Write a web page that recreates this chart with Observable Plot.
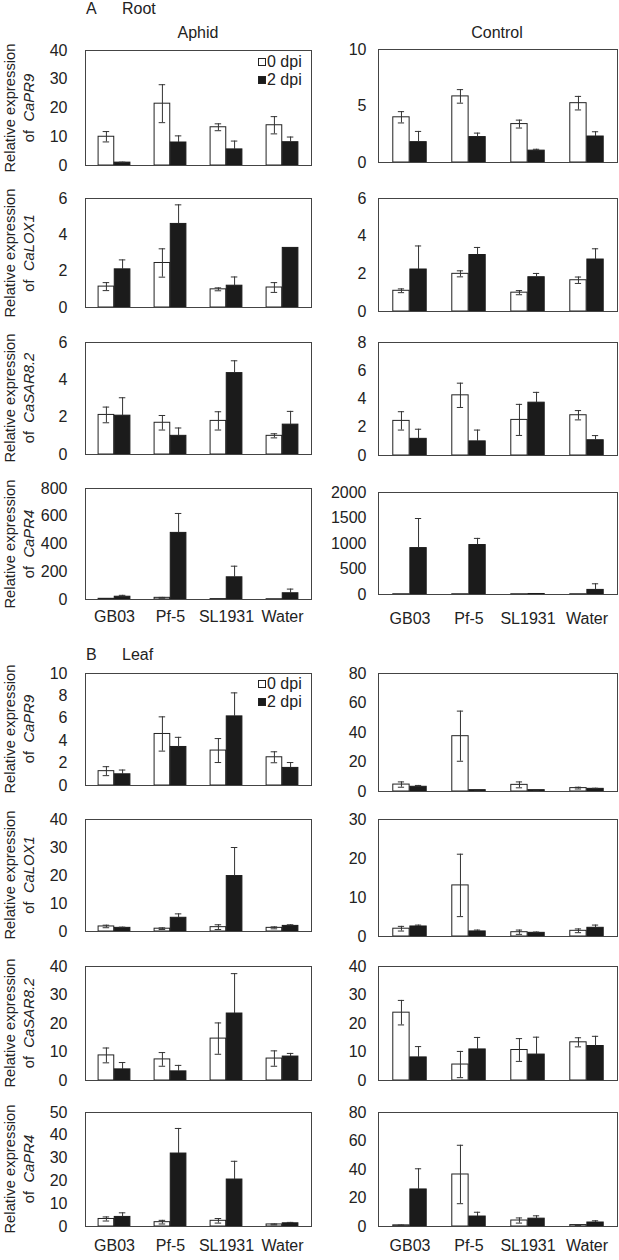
<!DOCTYPE html>
<html>
<head>
<meta charset="utf-8">
<script src="https://cdn.jsdelivr.net/npm/d3@7"></script>
<script src="https://cdn.jsdelivr.net/npm/@observablehq/plot@0.6"></script>
<style>
  html, body { margin: 0; padding: 0; background: #fff; }
  #fig { position: relative; width: 619px; height: 1260px; font-family: "Liberation Sans", Arial, Helvetica, sans-serif; color: #222; overflow: hidden; }
  .t { position: absolute; white-space: nowrap; font-size: 16px; line-height: 18px; }
  .yl { position: absolute; white-space: nowrap; font-size: 14.8px; line-height: 19px; text-align: center; transform: translate(-50%, -50%) rotate(-90deg); }
  .sq { position: absolute; width: 6px; height: 6px; border: 1px solid #222; }
</style>
</head>
<body>
<div id="fig"></div>
<script>
// ---------- data ----------
const cats = ["GB03", "Pf-5", "SL1931", "Water"];
const series = ["0 dpi", "2 dpi"];
const genes = ["CaPR9", "CaLOX1", "CaSAR8.2", "CaPR4"];

// Root, Aphid (means and SE for 0 dpi and 2 dpi)
const rootAphidPR9  = {m0: [10, 21.5, 13.3, 14],     e0: [1.8, 6.6, 1.2, 3],       m2: [1, 8, 5.6, 8.1],        e2: [0.15, 2.3, 2.9, 1.8]};
const rootAphidLOX1 = {m0: [1.15, 2.45, 1, 1.1],     e0: [0.22, 0.78, 0.08, 0.27], m2: [2.1, 4.6, 1.2, 3.28],   e2: [0.52, 1.05, 0.48, 0]};
const rootAphidSAR  = {m0: [2.12, 1.7, 1.8, 1.0],    e0: [0.42, 0.39, 0.49, 0.11], m2: [2.08, 1, 4.36, 1.6],    e2: [0.96, 0.42, 0.66, 0.71]};
const rootAphidPR4  = {m0: [5, 12, 3, 2],            e0: [0, 3, 0, 0],             m2: [20, 480, 160, 45],      e2: [10, 140, 80, 30]};
// Root, Control
const rootCtrlPR9   = {m0: [4, 5.85, 3.4, 5.25],     e0: [0.5, 0.6, 0.35, 0.6],    m2: [1.8, 2.25, 1.05, 2.3],  e2: [0.95, 0.35, 0.12, 0.42]};
const rootCtrlLOX1  = {m0: [1.1, 2, 1, 1.66],        e0: [0.1, 0.16, 0.11, 0.17],  m2: [2.23, 3, 1.82, 2.76],   e2: [1.25, 0.4, 0.2, 0.57]};
const rootCtrlSAR   = {m0: [2.45, 4.26, 2.52, 2.85], e0: [0.65, 0.86, 1.1, 0.33],  m2: [1.18, 1, 3.74, 1.08],   e2: [0.68, 0.8, 0.73, 0.33]};
const rootCtrlPR4   = {m0: [5, 5, 5, 5],             e0: [0, 0, 0, 0],             m2: [910, 970, 10, 90],      e2: [580, 130, 0, 120]};
// Leaf, Aphid
const leafAphidPR9  = {m0: [1.28, 4.6, 3.12, 2.52],  e0: [0.4, 1.53, 1.07, 0.49],  m2: [1, 3.44, 6.17, 1.57],   e2: [0.38, 0.86, 2.1, 0.48]};
const leafAphidLOX1 = {m0: [1.8, 1.0, 1.55, 1.3],    e0: [0.45, 0.3, 0.85, 0.35],  m2: [1.3, 4.9, 19.8, 2.0],   e2: [0.25, 1.4, 10.2, 0.4]};
const leafAphidSAR  = {m0: [8.8, 7.4, 14.7, 7.7],    e0: [2.6, 2.4, 5.5, 2.7],     m2: [3.9, 3.2, 23.5, 8.4],   e2: [2.4, 2.1, 14, 1.1]};
const leafAphidPR4  = {m0: [3.3, 1.9, 2.5, 0.9],     e0: [0.9, 0.8, 1, 0.2],       m2: [4.2, 32, 20.6, 1.4],    e2: [1.8, 11, 8, 0.4]};
// Leaf, Control
const leafCtrlPR9   = {m0: [4.7, 37.5, 4.5, 2.3],    e0: [1.8, 17, 2, 0.6],        m2: [3.2, 0.9, 0.9, 1.8],    e2: [0.9, 0.2, 0.2, 0.4]};
const leafCtrlLOX1  = {m0: [2, 13.1, 1.1, 1.46],     e0: [0.6, 8, 0.55, 0.48],     m2: [2.57, 1.3, 0.94, 2.23], e2: [0.35, 0.35, 0.2, 0.7]};
const leafCtrlSAR   = {m0: [23.8, 5.6, 10.7, 13.4],  e0: [4.3, 4.6, 4, 1.6],       m2: [8.1, 10.9, 9.1, 12.1],  e2: [3.8, 4.2, 6.1, 3.4]};
const leafCtrlPR4   = {m0: [0.8, 36.5, 4.2, 1],      e0: [0.2, 20.5, 1.8, 0.3],    m2: [26, 7, 5.5, 2.8],       e2: [14.5, 3, 2, 1.2]};

// y tick labels
const ticksRootAphid = [[0, 10, 20, 30, 40], [0, 2, 4, 6], [0, 2, 4, 6], [0, 200, 400, 600, 800]];
const ticksRootCtrl  = [[0, 5, 10], [0, 2, 4, 6], [0, 2, 4, 6, 8], [0, 500, 1000, 1500, 2000]];
const ticksLeafAphid = [[0, 2, 4, 6, 8, 10], [0, 10, 20, 30, 40], [0, 10, 20, 30, 40], [0, 10, 20, 30, 40, 50]];
const ticksLeafCtrl  = [[0, 20, 40, 60, 80], [0, 10, 20, 30], [0, 10, 20, 30, 40], [0, 20, 40, 60, 80]];

// ---------- layout ----------
const fig = document.getElementById("fig");
const FONT = '"Liberation Sans", Arial, Helvetica, sans-serif';

function panel({L, R, T, B, data, ticks, xlabels, yPad, xPad}) {
  const mL = 60, mR = 2, mT = 2, mB = xlabels ? 40 : 2;
  const fw = R - L, bw = fw / 4, w = 0.286 * bw, cap = 7;
  const rows = cats.map((c, i) => ({cat: c, m0: data.m0[i], e0: data.e0[i], m2: data.m2[i], e2: data.e2[i]}));
  const domain = [ticks[0], ticks[ticks.length - 1]];
  const svg = Plot.plot({
    width: fw + mL + mR,
    height: (B - T) + mT + mB,
    marginLeft: mL, marginRight: mR, marginTop: mT, marginBottom: mB,
    style: {fontFamily: FONT, fontSize: "16px", color: "#222", background: "transparent", overflow: "visible"},
    x: {domain: cats, padding: 0, axis: xlabels ? "bottom" : null, tickSize: 0, tickPadding: xPad, label: null},
    y: {domain, ticks, tickSize: 0, tickPadding: yPad, label: null, tickFormat: d => String(d)},
    marks: [
      Plot.barY(rows, {x: "cat", y: "m0", fill: "white", stroke: "#222", strokeWidth: 1, insetLeft: bw / 2 - w, insetRight: bw / 2}),
      Plot.barY(rows, {x: "cat", y: "m2", fill: "#1b1b1b", stroke: "#1b1b1b", strokeWidth: 1, insetLeft: bw / 2, insetRight: bw / 2 - w}),
      Plot.ruleX(rows.filter(d => d.e0 > 0), {x: "cat", y1: d => d.m0 - d.e0, y2: d => d.m0 + d.e0, dx: -w / 2, stroke: "#333"}),
      Plot.tickY(rows.filter(d => d.e0 > 0), {x: "cat", y: d => d.m0 + d.e0, stroke: "#333", insetLeft: bw / 2 - w / 2 - cap / 2, insetRight: bw / 2 + w / 2 - cap / 2}),
      Plot.tickY(rows.filter(d => d.e0 > 0), {x: "cat", y: d => d.m0 - d.e0, stroke: "#333", insetLeft: bw / 2 - w / 2 - cap / 2, insetRight: bw / 2 + w / 2 - cap / 2}),
      Plot.ruleX(rows.filter(d => d.e2 > 0), {x: "cat", y1: "m2", y2: d => d.m2 + d.e2, dx: w / 2, stroke: "#333"}),
      Plot.tickY(rows.filter(d => d.e2 > 0), {x: "cat", y: d => d.m2 + d.e2, stroke: "#333", insetLeft: bw / 2 + w / 2 - cap / 2, insetRight: bw / 2 - w / 2 - cap / 2}),
      Plot.frame({stroke: "#444", strokeWidth: 1})
    ]
  });
  svg.style.position = "absolute";
  svg.style.left = (L - mL) + "px";
  svg.style.top = (T - mT) + "px";
  fig.appendChild(svg);
}

function text(str, left, top, extra = "") {
  const d = document.createElement("div");
  d.className = "t";
  d.style.left = left + "px";
  d.style.top = top + "px";
  if (extra) d.style.cssText += extra;
  d.textContent = str;
  fig.appendChild(d);
}

function ylabel(gene, cy) {
  const d = document.createElement("div");
  d.className = "yl";
  d.style.left = "20px";
  d.style.top = cy + "px";
  d.innerHTML = "Relative expression<br>of&nbsp; <i>" + gene + "</i>";
  fig.appendChild(d);
}

function legend(top) {
  const s0 = document.createElement("div");
  s0.className = "sq"; s0.style.left = "258px"; s0.style.top = (top - 4) + "px"; s0.style.background = "#fff";
  fig.appendChild(s0);
  const s1 = document.createElement("div");
  s1.className = "sq"; s1.style.left = "258px"; s1.style.top = (top + 14) + "px"; s1.style.background = "#1b1b1b";
  fig.appendChild(s1);
  text(series[0], 267, top - 9);
  text(series[1], 267, top + 9);
}

const Lc = {L: 85, R: 311, yPad: 18};
const Rc = {L: 378, R: 617, yPad: 12};

const sections = [
  {
    aphid: [rootAphidPR9, rootAphidLOX1, rootAphidSAR, rootAphidPR4],
    ctrl: [rootCtrlPR9, rootCtrlLOX1, rootCtrlSAR, rootCtrlPR4],
    ta: ticksRootAphid, tc: ticksRootCtrl,
    left: [[50, 165], [198, 307], [342, 454], [488, 599]],
    right: [[49, 162], [198, 311], [342, 455], [492, 594]],
    xPadL: 11, xPadR: 18
  },
  {
    aphid: [leafAphidPR9, leafAphidLOX1, leafAphidSAR, leafAphidPR4],
    ctrl: [leafCtrlPR9, leafCtrlLOX1, leafCtrlSAR, leafCtrlPR4],
    ta: ticksLeafAphid, tc: ticksLeafCtrl,
    left: [[673, 785], [819, 931], [966, 1080], [1112, 1226]],
    right: [[673, 791], [819, 936], [966, 1080], [1112, 1226]],
    xPadL: 13, xPadR: 13
  }
];

sections.forEach(s => {
  for (let r = 0; r < 4; r++) {
    const last = r === 3;
    panel({...Lc, T: s.left[r][0], B: s.left[r][1], data: s.aphid[r], ticks: s.ta[r], xlabels: last, xPad: s.xPadL});
    panel({...Rc, T: s.right[r][0], B: s.right[r][1], data: s.ctrl[r], ticks: s.tc[r], xlabels: last, xPad: s.xPadR});
    ylabel(genes[r], (s.left[r][0] + s.left[r][1]) / 2);
  }
});

// titles
text("A", 86, 0);
text("Root", 122, 0);
text("Aphid", 198, 24, "transform: translateX(-50%);");
text("Control", 497, 24, "transform: translateX(-50%);");
text("B", 86, 646);
text("Leaf", 122, 646);
legend(62);
legend(684);
</script>
</body>
</html>
